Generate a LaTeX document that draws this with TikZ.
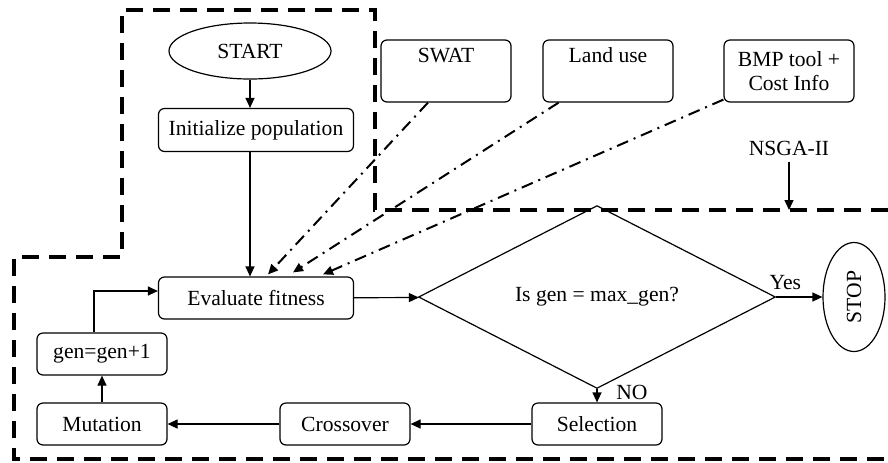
\documentclass[tikz,border=0pt]{standalone}
\usepackage{fontspec}
\setmainfont{Liberation Serif}
\usepackage{tikz}
\usetikzlibrary{positioning,shapes,arrows.meta}

\begin{document}
\begin{tikzpicture}[x=0.5pt, y=-0.5pt, >={Triangle[length=5pt,width=4.5pt]},
            font=\fontsize{10.8}{12}\selectfont,
            box/.style={draw, rectangle, rounded corners=3pt, minimum width=65pt, minimum height=21pt, inner sep=0pt, align=center, line width=0.6pt},
            inbox/.style={box, minimum height=31pt},
            flow/.style={->, line width=0.6pt},
            feed/.style={->, line width=1pt, dash pattern=on 6pt off 3pt on 1pt off 3pt},
            frame/.style={line width=1.7pt, dash pattern=on 8.5pt off 5pt}]
            \useasboundingbox (0,0) rectangle (888,462);

            % NSGA-II frame
            \draw[frame] (888,210) -- (375,210) -- (375,10) -- (122,10) -- (122,257) -- (14,257) -- (14,459) -- (888,459);

            \node[draw, ellipse, minimum width=81pt, minimum height=28pt, inner sep=0pt, line width=0.6pt] (start) at (250,51) {START};
            \node[box, minimum width=97.5pt, minimum height=21.5pt] (init) at (256,130) {Initialize population};
            \node[box, minimum width=97.5pt] (eval) at (256,298) {Evaluate fitness};
            \node[draw, diamond, minimum width=178.5pt, minimum height=76.5pt, inner sep=0pt, line width=0.6pt] (check) at (597,297) {\raisebox{-3pt}{Is gen = max\_gen?}};
            \node[draw, ellipse, minimum width=31pt, minimum height=54.5pt, inner sep=0pt, line width=0.6pt] (stop) at (854,297) {\rotatebox{90}{STOP}};
            \node[box] (select) at (597,424) {Selection};
            \node[box] (cross) at (345,424) {Crossover};
            \node[box] (mutate) at (102,424) {Mutation};
            \node[box] (gen) at (102,354) {gen=gen+1};

            \node[inbox] (swat) at (446,71) {SWAT\\\strut};
            \node[inbox] (land) at (608,71) {Land use\\\strut};
            \node[inbox] (bmp) at (789,71) {BMP tool +\\Cost Info};
            \node (nsga) at (789,148) {NSGA-II};
            \coordinate (edge) at (789,210);

            \draw[flow] (start) -- ([xshift=-3pt]init.north);
            \draw[flow] ([xshift=-3pt]init.south) -- ([xshift=-3pt]eval.north);
            \draw[flow] (eval) -- (check);
            \draw[flow] (check) -- node[above, pos=0.2] {Yes} (stop);
            \draw[flow] (check) -- node[right=6pt, pos=0.25] {NO} (select);
            \draw[flow] (select) -- (cross);
            \draw[flow] (cross) -- (mutate);
            \draw[flow] (mutate) -- (gen);
            \draw[flow] ([xshift=-4pt]gen.north) |- ([yshift=3.5pt]eval.west);
            \draw[flow] (nsga) -- (edge);

            \draw[feed] ([xshift=-9pt]swat.south) -- ([xshift=6pt,yshift=1pt]eval.north);
            \draw[feed] (land) -- ([xshift=18.5pt,yshift=2pt]eval.north);
            \draw[feed] (bmp) -- ([xshift=33.5pt,yshift=1pt]eval.north);
        \end{tikzpicture}
\end{document}
